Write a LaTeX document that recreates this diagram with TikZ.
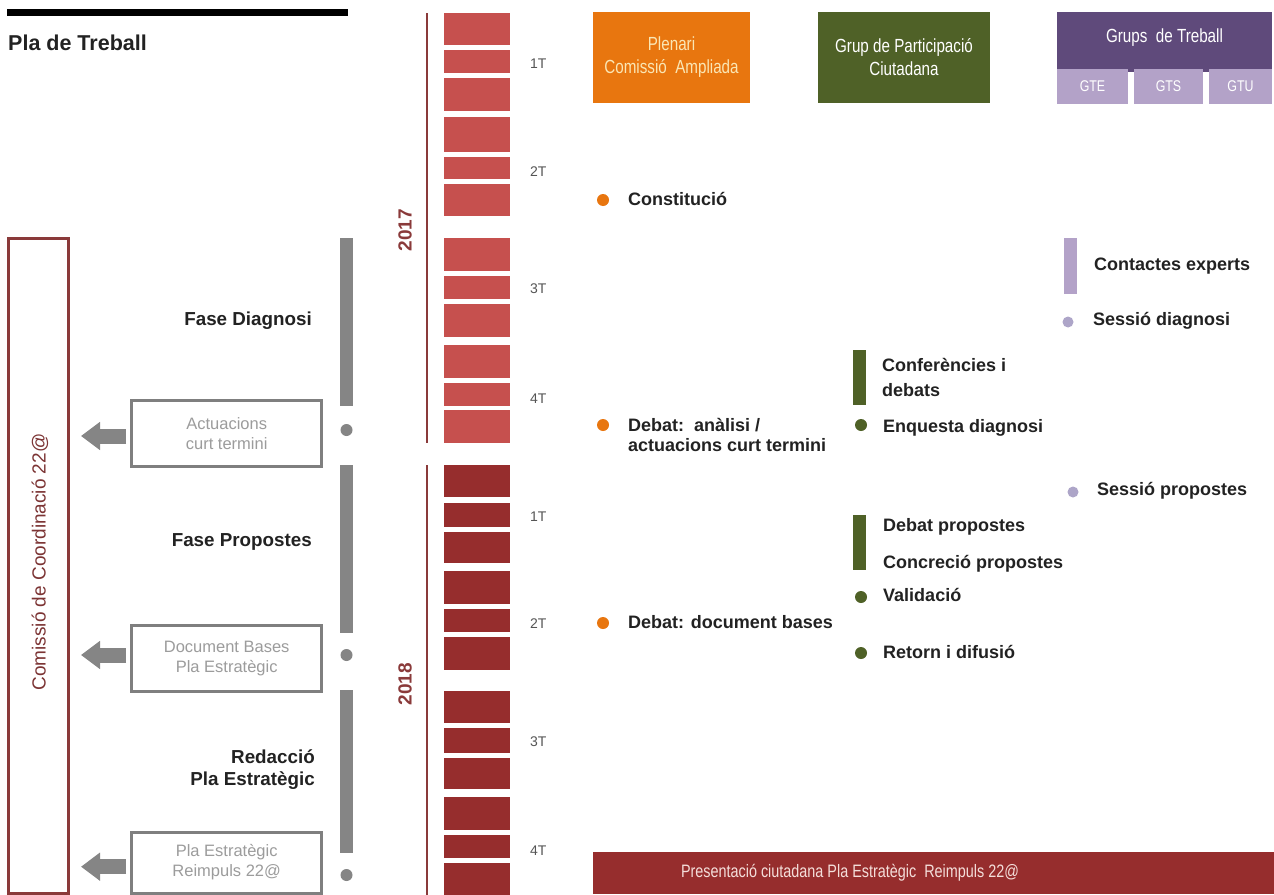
\documentclass[tikz,border=0pt]{standalone}
\usepackage{fontspec}
\setmainfont{Liberation Sans}
\newfontfamily\narrowfont[FakeStretch=0.8]{Liberation Sans}
\usetikzlibrary{arrows.meta}
\definecolor{barA}{HTML}{C6504E}
\definecolor{barB}{HTML}{962D2D}
\definecolor{maroon}{HTML}{8A3A3A}
\definecolor{orangeC}{HTML}{E8760F}
\definecolor{oliveC}{HTML}{4F6127}
\definecolor{purpleD}{HTML}{5F4A7B}
\definecolor{purpleL}{HTML}{B3A2C8}
\definecolor{dotPurple}{HTML}{ADA5C8}
\definecolor{grayBar}{HTML}{858585}
\definecolor{boxGray}{HTML}{7F7F7F}
\definecolor{boxText}{HTML}{9C9C9C}
\definecolor{txt}{HTML}{222222}
\definecolor{tq}{HTML}{555555}
\definecolor{cream}{HTML}{FAE6B4}
\definecolor{pinkC}{HTML}{F4DEDA}
\begin{document}
\begin{tikzpicture}[x=1pt,y=-1pt,
  ev/.style={anchor=base west, inner sep=0, text=txt, font=\fontsize{18}{22}\selectfont\bfseries},
  phase/.style={anchor=base east, inner sep=0, text=txt, font=\fontsize{18.8}{22}\selectfont\bfseries},
  qlab/.style={anchor=base west, inner sep=0, text=tq, font=\fontsize{14}{16}\selectfont},
  outbox/.style={draw=boxGray, line width=3, fill=white, minimum width=190, inner sep=0, text=boxText, font=\fontsize{16.5}{20}\selectfont, align=center},
  head/.style={inner sep=0, minimum height=91, align=center, font=\narrowfont\fontsize{19}{23}\selectfont},
  sub/.style={inner sep=0, minimum height=35, fill=purpleL, text=white, font=\narrowfont\fontsize{15.5}{18}\selectfont},
  bigarrow/.style={draw=grayBar, line width=15, -{Triangle[length=19,width=27]}},
  dot/.style={circle, inner sep=0, minimum size=12},
  year/.style={rotate=90, text=maroon, font=\fontsize{19}{22}\selectfont\bfseries},
]
\useasboundingbox (0,0) rectangle (1274,894);
\clip (0,0) rectangle (1274,894);
\fill[white] (0,0) rectangle (1274,894);

% title area
\fill[black] (7,9) rectangle (348,16);
\node[anchor=base west, inner sep=0, text=txt, font=\fontsize{21.5}{24}\selectfont\bfseries] (pdt) at (8,50) {Pla de Treball};

% timeline lines
\draw[maroon, line width=2.5] (427,13) -- (427,443);
\draw[maroon, line width=2.5] (427,465) -- (427,900);

% bars 2017
\foreach \a/\b in {12.7/45, 50/72.7, 77.7/110.7, 117.3/151.7, 156.7/179.3, 184.3/216, 238.3/270.7, 276/299, 304/336.7, 345/378.3, 382.7/405.7, 410/443.3}
  \fill[barA] (444,\a) rectangle (510,\b);
% bars 2018
\foreach \a/\b in {465/496.7, 502.7/526.7, 531.7/563.3, 571/604.3, 609.3/631.7, 636.7/670, 690.7/723.3, 728.3/753.3, 757.7/789.3, 797.3/830, 835/858.3, 862.7/900}
  \fill[barB] (444,\a) rectangle (510,\b);

\node[year] (y17) at (405,230) {2017};
\node[year] (y18) at (405,684) {2018};

\node[qlab] (q1a) at (530,68.3) {1T};
\node[qlab] (q2a) at (530,176.7) {2T};
\node[qlab] (q3a) at (530,293) {3T};
\node[qlab] (q4a) at (530,403.3) {4T};
\node[qlab] (q1b) at (530,521.7) {1T};
\node[qlab] (q2b) at (530,628.3) {2T};
\node[qlab] (q3b) at (530,746.7) {3T};
\node[qlab] (q4b) at (530,855) {4T};

% Comissio frame
\node[draw=maroon, line width=3, minimum width=60, minimum height=655, inner sep=0] (cc) at (38,565.5) {};
\node[rotate=90, text=maroon!90!black, font=\fontsize{19}{22}\selectfont] (cct) at (40,562) {Comissió de Coordinació 22@};

% phase bars and dots
\fill[grayBar] (340,238) rectangle (353,406);
\fill[grayBar] (340,465) rectangle (353,633);
\fill[grayBar] (340,690) rectangle (353,853);
\node[dot, fill=grayBar] (g1) at (346.5,430) {};
\node[dot, fill=grayBar] (g2) at (346.5,655) {};
\node[dot, fill=grayBar] (g3) at (346.5,875) {};

\node[phase] (fd) at (312,325) {Fase Diagnosi};
\node[phase] (fp) at (312,546) {Fase Propostes};
\node[phase] (rd1) at (315,763) {Redacció};
\node[phase] (rd2) at (315,785) {Pla Estratègic};

% output boxes
\node[outbox, minimum height=66] (b1) at (226.7,433.3) {Actuacions\\curt termini};
\node[outbox, minimum height=66] (b2) at (226.7,658.8) {Document Bases\\Pla Estratègic};
\node[outbox, minimum height=61] (b3) at (226.7,862.5) {Pla Estratègic\\Reimpuls 22@};

\coordinate (t1) at (81,436);
\coordinate (t2) at (81,655);
\coordinate (t3) at (81,866.7);
\draw[bigarrow, shorten <=4] (t1 -| b1.west) -- (t1);
\draw[bigarrow, shorten <=4] (t2 -| b2.west) -- (t2);
\draw[bigarrow, shorten <=4] (t3 -| b3.west) -- (t3);

% header boxes
\node[head, fill=orangeC, text=cream, minimum width=157] (plen) at (671.5,57.5) {Plenari\\Comissió~~Ampliada};
\node[head, fill=oliveC, text=white, minimum width=172] (gpc) at (904,57.5) {Grup de Participació\\Ciutadana};
\fill[purpleD] (1057,12) rectangle (1272,72);
\node[inner sep=0, text=white, font=\narrowfont\fontsize{19}{23}\selectfont] (gdt) at (1164.5,38) {Grups~~de Treball};
\node[sub, minimum width=71] (gte) at (1092.5,86) {GTE};
\node[sub, minimum width=69] (gts) at (1168.5,86) {GTS};
\node[sub, minimum width=63] (gtu) at (1240.5,86) {GTU};

% Plenari events
\node[dot, fill=orangeC] (o1) at (603,200) {};
\node[dot, fill=orangeC] (o2) at (603,425) {};
\node[dot, fill=orangeC] (o3) at (603,623) {};
\node[ev] (e1) at (628,205) {Constitució};
\node[ev] (e2a) at (628,431.7) {Debat:\ \ anàlisi /};
\node[ev] (e2b) at (628,451.7) {actuacions curt termini};
\node[ev] (e3) at (628,628) {Debat: document bases};

% Participacio events
\fill[oliveC] (853,350) rectangle (866,405);
\fill[oliveC] (853,515) rectangle (866,570);
\node[dot, fill=oliveC] (gr1) at (861,425) {};
\node[dot, fill=oliveC] (gr2) at (861,597) {};
\node[dot, fill=oliveC] (gr3) at (861,653) {};
\node[ev] (p1a) at (882,371.7) {Conferències i};
\node[ev] (p1b) at (882,396.7) {debats};
\node[ev] (p2) at (883,432) {Enquesta diagnosi};
\node[ev] (p3) at (883,531.7) {Debat propostes};
\node[ev] (p4) at (883,568.3) {Concreció propostes};
\node[ev] (p5) at (883,601.7) {Validació};
\node[ev] (p6) at (883,658.3) {Retorn i difusió};

% Grups de treball events
\fill[purpleL] (1064,238) rectangle (1077,294);
\node[dot, fill=dotPurple, minimum size=11] (pu1) at (1068,322) {};
\node[dot, fill=dotPurple, minimum size=11] (pu2) at (1073,492) {};
\node[ev] (w1) at (1094,270) {Contactes experts};
\node[ev] (w2) at (1093,325) {Sessió diagnosi};
\node[ev] (w3) at (1097,495) {Sessió propostes};

% bottom bar
\fill[barB] (593,852) rectangle (1274,894);
\node[inner sep=0, text=pinkC, font=\narrowfont\fontsize{18}{22}\selectfont] (pres) at (850,873) {Presentació ciutadana Pla Estratègic~~Reimpuls 22@};
\end{tikzpicture}
\end{document}
